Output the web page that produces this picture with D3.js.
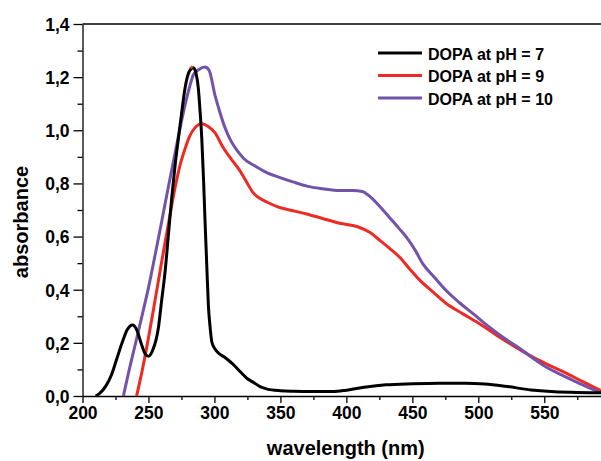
<!DOCTYPE html>
<html>
<head>
<meta charset="utf-8">
<script src="https://cdn.jsdelivr.net/npm/d3@7"></script>
<style>
  body { margin: 0; background: #fff; }
  svg { display: block; font-family: "Liberation Sans", Arial, sans-serif; font-weight: bold; }
  .axis path, .axis line { stroke: #000; stroke-width: 1.3; }
  .axis text { font-size: 17.5px; font-weight: bold; fill: #000; }
</style>
</head>
<body>
<div id="chart"></div>
<script>
// data
var seriesNames = ["DOPA at pH = 7", "DOPA at pH = 9", "DOPA at pH = 10"];
var seriesColors = ["#000000", "#ee2a24", "#7353a9"];

var nmPH7 = [210, 213, 218, 222, 226, 230, 234, 238, 241, 245, 248, 250, 253, 257.5, 260, 262.6, 265, 267.6, 270, 272.7, 275, 277.7, 280, 282.8, 284, 286, 287.8, 289, 290.4, 291.7, 292.9, 294.2, 295.4, 296.7, 298, 300, 303, 308, 314, 319, 325, 330, 335, 340, 350, 360, 375, 390, 400, 415, 430, 450, 470, 490, 505, 520, 540, 555, 570, 593];
var absPH7 = [0, 0.01, 0.04, 0.08, 0.14, 0.2, 0.25, 0.267, 0.25, 0.19, 0.155, 0.15, 0.17, 0.256, 0.36, 0.468, 0.6, 0.745, 0.86, 0.97, 1.06, 1.158, 1.21, 1.233, 1.235, 1.215, 1.158, 1.08, 0.97, 0.82, 0.656, 0.49, 0.342, 0.26, 0.204, 0.18, 0.162, 0.145, 0.12, 0.094, 0.065, 0.05, 0.034, 0.026, 0.02, 0.018, 0.017, 0.017, 0.022, 0.034, 0.042, 0.046, 0.048, 0.048, 0.045, 0.037, 0.023, 0.017, 0.014, 0.012];

var nmPH9 = [241, 245, 249.9, 255, 260, 265, 270, 274, 277.7, 281, 285.3, 290.4, 295, 300.5, 306.6, 313, 319.4, 325, 329, 334, 339.7, 348, 357, 370, 382, 395, 408, 418, 425.6, 433, 440.8, 448, 456, 466, 476, 488, 501.5, 515, 529, 540, 552, 565, 580, 593];
var absPH9 = [0, 0.09, 0.216, 0.36, 0.505, 0.645, 0.78, 0.87, 0.93, 0.975, 1.01, 1.025, 1.015, 0.99, 0.935, 0.89, 0.847, 0.8, 0.767, 0.745, 0.73, 0.712, 0.7, 0.685, 0.668, 0.65, 0.638, 0.615, 0.585, 0.555, 0.52, 0.478, 0.434, 0.39, 0.347, 0.31, 0.27, 0.225, 0.182, 0.15, 0.12, 0.09, 0.052, 0.02];

var nmPH10 = [231, 235, 239.8, 245, 249.9, 255, 260, 265, 270, 274, 277.7, 281, 284, 288, 292.9, 296, 300.5, 304, 308, 312, 317, 322, 332, 340, 349.8, 360, 370, 382, 395, 405, 412, 418, 425, 433, 440, 445.9, 452, 458, 467, 476, 486, 496, 507, 519, 532, 542, 552, 565, 580, 593];
var absPH10 = [0, 0.09, 0.19, 0.3, 0.405, 0.53, 0.656, 0.785, 0.91, 1.01, 1.095, 1.16, 1.208, 1.228, 1.238, 1.225, 1.13, 1.07, 1.01, 0.965, 0.925, 0.895, 0.862, 0.84, 0.822, 0.805, 0.79, 0.78, 0.773, 0.773, 0.77, 0.75, 0.715, 0.67, 0.63, 0.595, 0.55, 0.497, 0.445, 0.395, 0.35, 0.31, 0.265, 0.22, 0.177, 0.14, 0.107, 0.075, 0.04, 0.012];

var xTicks = [200, 250, 300, 350, 400, 450, 500, 550];
var xMinor = [225, 275, 325, 375, 425, 475, 525, 575];
var yTicks = [0, 0.2, 0.4, 0.6, 0.8, 1.0, 1.2, 1.4];
var yMinor = [0.1, 0.3, 0.5, 0.7, 0.9, 1.1, 1.3];

var width = 601, height = 461;
var plotLeft = 82.5, plotRight = 601, plotTop = 24, plotBottom = 396;

var svg = d3.select("#chart").append("svg")
    .attr("width", width)
    .attr("height", height);

var x = d3.scaleLinear().domain([200, 593]).range([plotLeft, plotRight]);
var y = d3.scaleLinear().domain([0, 1.4]).range([plotBottom, plotTop]);

var fmt = function(d) { return d3.format(".1f")(d).replace(".", ","); };

// minor ticks first
svg.append("g").attr("class", "axis")
    .attr("transform", "translate(0," + plotBottom + ")")
    .call(d3.axisBottom(x).tickValues(xMinor).tickSize(4).tickFormat(""))
    .select(".domain").remove();
svg.append("g").attr("class", "axis")
    .attr("transform", "translate(" + plotLeft + ",0)")
    .call(d3.axisLeft(y).tickValues(yMinor).tickSize(5).tickFormat(""))
    .select(".domain").remove();

var xAxis = svg.append("g").attr("class", "axis")
    .attr("transform", "translate(0," + plotBottom + ")")
    .call(d3.axisBottom(x).tickValues(xTicks).tickSize(7).tickSizeOuter(0).tickPadding(4).tickFormat(d3.format("d")));

var yAxis = svg.append("g").attr("class", "axis")
    .attr("transform", "translate(" + plotLeft + ",0)")
    .call(d3.axisLeft(y).tickValues(yTicks).tickSize(9).tickSizeOuter(0).tickPadding(4).tickFormat(fmt));
yAxis.selectAll("text").attr("dy", "0.36em");

// top frame line
svg.append("line")
    .attr("x1", plotLeft).attr("x2", plotRight)
    .attr("y1", plotTop).attr("y2", plotTop)
    .attr("stroke", "#000").attr("stroke-width", 1.3);

var line = d3.line()
    .x(function(d) { return x(d[0]); })
    .y(function(d) { return y(d[1]); })
    .curve(d3.curveMonotoneX);

var series = [
    d3.zip(nmPH7, absPH7),
    d3.zip(nmPH9, absPH9),
    d3.zip(nmPH10, absPH10)
];

// draw pH 9, pH 10, then pH 7 on top near peak
var order = [1, 2, 0];
order.forEach(function(i) {
    svg.append("path")
        .datum(series[i])
        .attr("fill", "none")
        .attr("stroke", seriesColors[i])
        .attr("stroke-width", 3)
        .attr("stroke-linejoin", "round")
        .attr("d", line);
});

// small red cross at the pH 7 peak
svg.append("path")
    .attr("d", d3.symbol(d3.symbolCross, 7)())
    .attr("transform", "translate(" + x(282.5) + "," + y(1.236) + ")")
    .attr("fill", "#ee2a24");

// axis titles
svg.append("text")
    .attr("x", (plotLeft + plotRight) / 2 + 4)
    .attr("y", 455)
    .attr("text-anchor", "middle")
    .attr("font-size", 20)
    .text("wavelength (nm)");

svg.append("text")
    .attr("transform", "translate(28,222) rotate(-90)")
    .attr("text-anchor", "middle")
    .attr("font-size", 20)
    .text("absorbance");

// legend
var legend = svg.append("g").attr("transform", "translate(378,53)");
seriesNames.forEach(function(name, i) {
    var row = legend.append("g").attr("transform", "translate(0," + (i * 22.5) + ")");
    row.append("line")
        .attr("x1", 0).attr("x2", 44)
        .attr("stroke", seriesColors[i])
        .attr("stroke-width", 3);
    row.append("text")
        .attr("x", 50)
        .attr("y", 6.5)
        .attr("font-size", 16)
        .text(name);
});
</script>
</body>
</html>
